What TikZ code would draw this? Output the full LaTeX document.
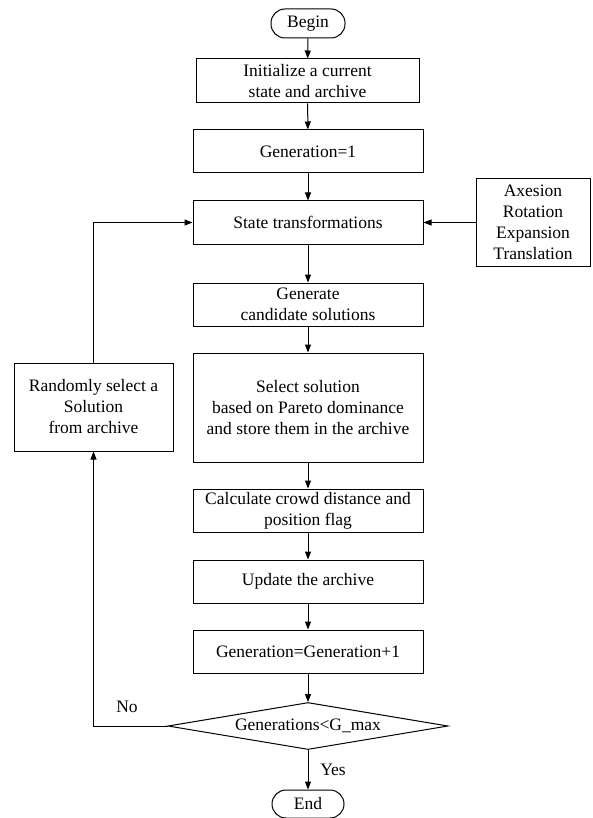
\documentclass[tikz,border=0pt]{standalone}
\usepackage{fontspec}
\setmainfont{Liberation Serif}
\usepackage{tikz}
\usetikzlibrary{arrows.meta,shapes.geometric}

\begin{document}
\begin{tikzpicture}[x=1pt,y=-1pt,line width=1pt,
  font=\fontsize{17.5}{21}\selectfont,
  box/.style={draw,rectangle,align=center,inner sep=0pt,minimum width=230,minimum height=43},
  term/.style={draw,rectangle,rounded corners=14pt,inner sep=0pt,minimum width=74,minimum height=29},
  test/.style={draw,diamond,aspect=6,inner sep=0pt,minimum width=280,minimum height=47},
  arr/.style={-{Triangle[length=8pt,width=6pt]}}]
  \useasboundingbox (0,0) rectangle (592,818);

  % main column
  \node[term] (begin) at (308,23.5) {Begin};
  \node[box,minimum width=223,minimum height=44] (init) at (307.5,81)
    {Initialize a current\\state and archive};
  \node[box] (gen1) at (308,151.5) {Generation=1};
  \node[box] (state) at (308,222.5) {State transformations};
  \node[box] (cand) at (308,304.5) {Generate\\candidate solutions};
  \node[box,minimum height=109] (select) at (308,407.5)
    {Select solution\\based on Pareto dominance\\and store them in the archive};
  \node[box] (crowd) at (308,510.5) {Calculate crowd distance and\\position flag};
  \node[box] (update) at (308,581.5) {Update the archive};
  \node[box] (geninc) at (308,651.5) {Generation=Generation+1};
  \node[test] (check) at (308,726) {Generations<G\_max};
  \node[term,minimum width=72,minimum height=28] (end) at (308,804) {End};

  % side boxes
  \node[box,minimum width=114,minimum height=87] (ops) at (533,222.5)
    {Axesion\\Rotation\\Expansion\\Translation};
  \node[box,minimum width=159,minimum height=88] (random) at (93.5,407)
    {Randomly select a\\Solution\\from archive};

  % labels
  \node (no) at (127,707) {No};
  \node (yes) at (333,770) {Yes};

  % connectors
  \draw[arr] (begin) -- (init);
  \draw[arr] (init) -- (gen1);
  \draw[arr] (gen1) -- (state);
  \draw[arr] (ops) -- (state);
  \draw[arr] (state) -- (cand);
  \draw[arr] (cand) -- (select);
  \draw[arr] (select) -- (crowd);
  \draw[arr] (crowd) -- (update);
  \draw[arr] (update) -- (geninc);
  \draw[arr] (geninc) -- (check);
  \draw[arr] (check) -- (end);

  % loop back
  \draw[arr] (check.west) -| (random.south);
  \draw[arr] (random.north) |- (state.west);
\end{tikzpicture}
\end{document}
